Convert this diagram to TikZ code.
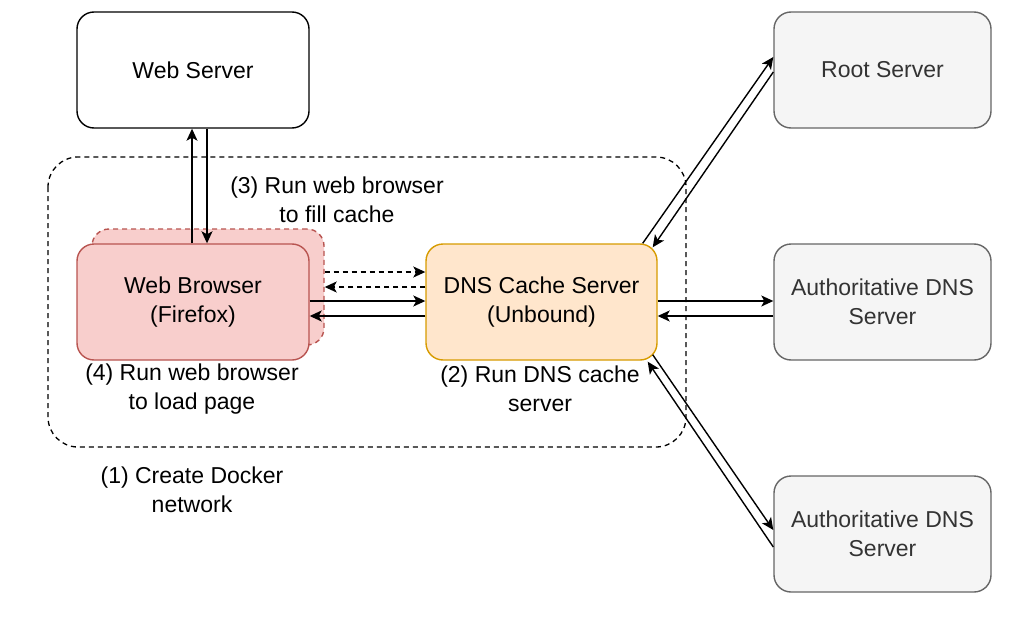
\documentclass[tikz,border=0pt]{standalone}
\usepackage{fontspec}
\setmainfont{Liberation Sans}
\usetikzlibrary{arrows.meta,calc}
\definecolor{redfill}{HTML}{F8CECC}
\definecolor{redline}{HTML}{B85450}
\definecolor{orfill}{HTML}{FFE6CC}
\definecolor{orline}{HTML}{D79B00}
\definecolor{gfill}{HTML}{F5F5F5}
\definecolor{gline}{HTML}{666666}
\definecolor{gtext}{HTML}{333333}
\begin{document}
\begin{tikzpicture}[x=1pt,y=-1pt,
  font=\fontsize{23}{29}\selectfont,
  box/.style={draw, rounded corners=17pt, line width=1.4pt, minimum height=116pt, align=center, inner sep=0pt},
  wbox/.style={box, fill=white, draw=black, minimum width=232pt},
  rbox/.style={box, fill=redfill, draw=redline, minimum width=232pt},
  obox/.style={box, fill=orfill, draw=orline, minimum width=231pt},
  gbox/.style={box, fill=gfill, draw=gline, text=gtext, minimum width=217pt},
  arr/.style={line width=1.4pt, -{Stealth[length=12pt,width=11pt,inset=3pt]}},
  darr/.style={arr, dash pattern=on 5pt off 4pt},
  lbl/.style={align=center, inner sep=0pt}
]
\useasboundingbox (0,0) rectangle (1033,618);
% container
\draw[line width=1.3pt, dash pattern=on 5pt off 4pt, rounded corners=30pt] (48,157) rectangle (686,447);
% nodes
\node[wbox] (web) at (193,70) {Web Server};
\node[rbox, dash pattern=on 5pt off 4pt] (back) at (208,287) {};
\node[rbox] (browser) at (193,302) {Web Browser\\(Firefox)};
\node[obox] (dns) at (541.5,302) {DNS Cache Server\\(Unbound)};
\node[gbox] (root) at (882.5,70) {Root Server};
\node[gbox] (auth1) at (882.5,302) {Authoritative DNS\\Server};
\node[gbox] (auth2) at (882.5,534) {Authoritative DNS\\Server};
% labels
\node[lbl] (l3) at (337,200) {(3) Run web browser\\to fill cache};
\node[lbl] (l4) at (192,389) {(4) Run web browser\\to load page};
\node[lbl] (l2) at (540,389) {(2) Run DNS cache\\server};
\node[lbl] (l1) at (192,490) {(1) Create Docker\\network};
% web server <-> browser
\draw[arr] ($(browser.north)+(-1,0)$) -- ($(web.south)+(-1,0)$);
\draw[arr] ($(web.south)+(14,0)$) -- ($(browser.north)+(14,0)$);
% browser <-> dns
\draw[darr] ($(back.east)+(0,-15)$) -- ($(dns.west)+(0,-30)$);
\draw[darr] ($(dns.west)+(0,-15)$) -- ($(back.east)+(0,0)$);
\draw[arr] ($(browser.east)+(0,-1)$) -- ($(dns.west)+(0,-1)$);
\draw[arr] ($(dns.west)+(0,14)$) -- ($(browser.east)+(0,14)$);
% dns <-> root
\draw[arr] ($(dns.north east)+(-15,0)$) -- ($(root.west)+(0,-13)$);
\draw[arr] ($(root.west)+(0,2)$) -- ($(dns.north east)+(-5,4)$);
% dns <-> auth1
\draw[arr] ($(dns.east)+(0,-1)$) -- ($(auth1.west)+(0,-1)$);
\draw[arr] ($(auth1.west)+(0,14)$) -- ($(dns.east)+(0,14)$);
% dns <-> auth2
\draw[arr] ($(dns.south east)+(-5,-6)$) -- ($(auth2.west)+(0,-4)$);
\draw[arr] ($(auth2.west)+(0,13)$) -- ($(dns.south east)+(-10,1)$);
\end{tikzpicture}
\end{document}
